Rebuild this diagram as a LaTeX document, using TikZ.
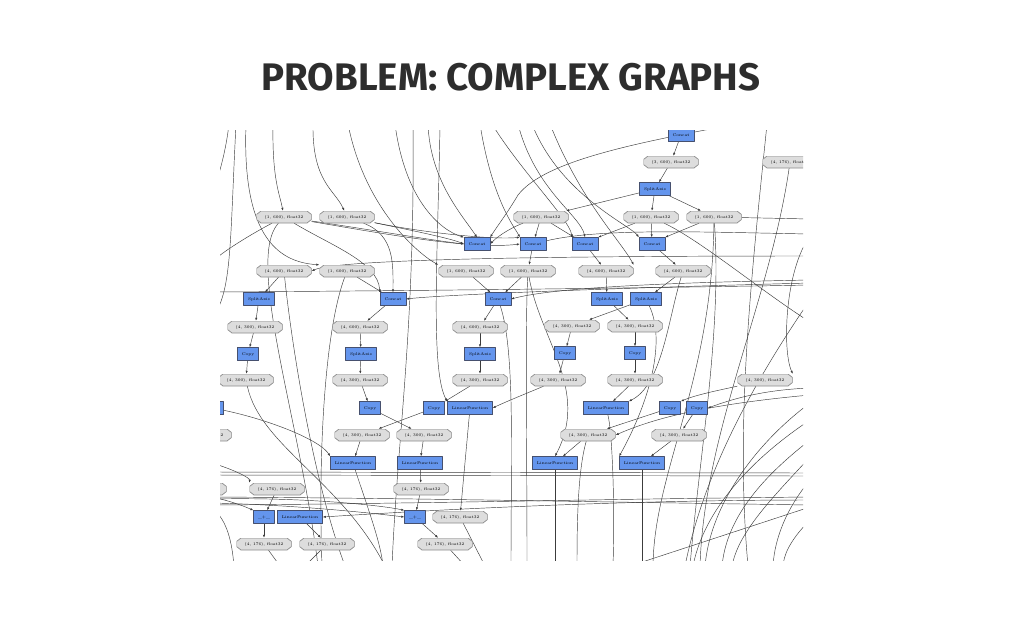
\documentclass[tikz,border=0pt]{standalone}
\usepackage{fontspec}
\newfontfamily\titlefont{Fira Sans}
\usetikzlibrary{arrows.meta}
\pgfdeclarelayer{paper}
\pgfdeclarelayer{edges}
\pgfsetlayers{paper,edges,main}

\begin{document}
\begin{tikzpicture}[x=1pt,y=-1pt,line cap=round,line join=round,
  opbox/.style={draw=opline,fill=opfill,line width=0.4pt,rectangle,
    minimum width=20pt,minimum height=13pt,inner xsep=4.5pt,inner ysep=0pt,
    font=\fontsize{4}{5}\selectfont},
  varbox/.style={rectangle,minimum width=55pt,minimum height=12pt,inner sep=0pt,
    font=\fontsize{4}{5}\selectfont,
    path picture={\filldraw[fill=varfill,draw=varline,line width=0.7pt]
      ([yshift=-3.5pt]path picture bounding box.north west)
      -- ([xshift=4.5pt]path picture bounding box.north west)
      -- ([xshift=-4.5pt]path picture bounding box.north east)
      -- ([yshift=-3.5pt]path picture bounding box.north east)
      -- ([yshift=3.5pt]path picture bounding box.south east)
      -- ([xshift=-4.5pt]path picture bounding box.south east)
      -- ([xshift=4.5pt]path picture bounding box.south west)
      -- ([yshift=3.5pt]path picture bounding box.south west) -- cycle;}},
  flow/.style={draw=edgecol,line width=0.45pt,-{Latex[length=3pt,width=2.2pt]}}]
  \definecolor{opfill}{RGB}{100,149,237}
  \definecolor{opline}{RGB}{70,80,110}
  \definecolor{varfill}{RGB}{221,221,221}
  \definecolor{varline}{RGB}{140,140,140}
  \definecolor{edgecol}{RGB}{60,60,60}
  \definecolor{titlecol}{RGB}{45,45,45}

  \useasboundingbox (0,0) rectangle (1024,640);
  \begin{pgfonlayer}{paper}
  \fill[white] (0,0) rectangle (1024,640);
  \end{pgfonlayer}

  % title
  \node[font=\titlefont\bfseries\fontsize{38.4}{42}\selectfont,text=titlecol,anchor=base]
    (title) at (511,90) {PROBLEM: COMPLEX GRAPHS};

  % ---- nodes of the graph ----
  \begin{scope}
  \clip (220,130) rectangle (803,560);
  % top chain
  \node[opbox] (concat1) at (681,135) {Concat};
  \node[varbox] (var1) at (671,162) {(3, 600), float32};
  \node[varbox] (var2) at (790,162) {(4, 176), float32};
  \node[opbox] (split1) at (655,189) {SplitAxis};
  % row of (1, 600) outputs
  \node[varbox] (var3) at (284,217) {(1, 600), float32};
  \node[varbox] (var4) at (347,217) {(1, 600), float32};
  \node[varbox] (var5) at (541,217) {(1, 600), float32};
  \node[varbox] (var6) at (651,217) {(1, 600), float32};
  \node[varbox] (var7) at (714,217) {(1, 600), float32};
  \node[opbox] (concat2) at (477,244) {Concat};
  \node[opbox] (concat3) at (533,244) {Concat};
  \node[opbox] (concat4) at (585,244) {Concat};
  \node[opbox] (concat5) at (652,244) {Concat};
  \node[varbox] (var8) at (284,271) {(4, 600), float32};
  \node[varbox] (var9) at (347,271) {(1, 600), float32};
  \node[varbox] (var10) at (466,271) {(1, 600), float32};
  \node[varbox] (var11) at (528,271) {(1, 600), float32};
  \node[varbox] (var12) at (606,271) {(4, 600), float32};
  \node[varbox] (var13) at (683,271) {(4, 600), float32};
  % split layer
  \node[opbox] (split2) at (259,299) {SplitAxis};
  \node[opbox] (concat6) at (393,299) {Concat};
  \node[opbox] (concat7) at (498,299) {Concat};
  \node[opbox] (split3) at (607,299) {SplitAxis};
  \node[opbox] (split4) at (646,299) {SplitAxis};
  \node[varbox] (var14) at (255,327) {(4, 300), float32};
  \node[varbox] (var15) at (360,327) {(4, 600), float32};
  \node[varbox] (var16) at (480,327) {(4, 600), float32};
  \node[varbox] (var17) at (572,326) {(4, 300), float32};
  \node[varbox] (var18) at (635,326) {(4, 300), float32};
  \node[opbox] (copy1) at (248,354) {Copy};
  \node[opbox] (split5) at (361,354) {SplitAxis};
  \node[opbox] (split6) at (480,354) {SplitAxis};
  \node[opbox] (copy2) at (565,353) {Copy};
  \node[opbox] (copy3) at (635,353) {Copy};
  \node[varbox] (var19) at (246,380) {(4, 300), float32};
  \node[varbox] (var20) at (360,380) {(4, 300), float32};
  \node[varbox] (var21) at (480,380) {(4, 300), float32};
  \node[varbox] (var22) at (558,380) {(4, 300), float32};
  \node[varbox] (var23) at (635,380) {(4, 300), float32};
  \node[varbox] (var24) at (765,380) {(4, 300), float32};
  % copy and linear layer
  \node[opbox] (copy0) at (213,408) {Copy};
  \node[opbox] (copy4) at (370,408) {Copy};
  \node[opbox] (copy5) at (434,408) {Copy};
  \node[opbox] (linf1) at (470,408) {LinearFunction};
  \node[opbox] (linf2) at (606,408) {LinearFunction};
  \node[opbox] (copy6) at (670,408) {Copy};
  \node[opbox] (copy7) at (697,408) {Copy};
  \node[varbox] (var25) at (204,435) {(4, 300), float32};
  \node[varbox] (var26) at (362,435) {(4, 300), float32};
  \node[varbox] (var27) at (424,435) {(4, 300), float32};
  \node[varbox] (var28) at (588,435) {(4, 300), float32};
  \node[varbox] (var29) at (679,435) {(4, 300), float32};
  \node[opbox] (linf3) at (353,463) {LinearFunction};
  \node[opbox] (linf4) at (420,463) {LinearFunction};
  \node[opbox] (linf5) at (555,463) {LinearFunction};
  \node[opbox] (linf6) at (642,463) {LinearFunction};
  % bottom
  \node[varbox] (var30) at (199,489) {(4, 176), float32};
  \node[varbox] (var31) at (277,489) {(4, 176), float32};
  \node[varbox] (var32) at (421,489) {(4, 176), float32};
  \node[opbox] (add1) at (264,517) {\_+\_};
  \node[opbox] (linf7) at (300,517) {LinearFunction};
  \node[opbox] (add2) at (415,517) {\_+\_};
  \node[varbox] (var33) at (460,517) {(4, 176), float32};
  \node[varbox] (var34) at (264,544) {(4, 176), float32};
  \node[varbox] (var35) at (327,544) {(4, 176), float32};
  \node[varbox] (var36) at (445,544) {(4, 176), float32};
  \end{scope}

  % ---- free ends outside the visible window ----
  \coordinate (top1) at (229,124);  \coordinate (top2) at (236,124);
  \coordinate (top3) at (246,124);  \coordinate (top4) at (273,124);
  \coordinate (top5) at (313,124);  \coordinate (top6) at (348,124);
  \coordinate (top7) at (395,124);  \coordinate (top8) at (413,124);
  \coordinate (top9) at (428,124);  \coordinate (top10) at (440,124);
  \coordinate (top11) at (480,124); \coordinate (top12) at (492,124);
  \coordinate (top13) at (518,124); \coordinate (top14) at (532,124);
  \coordinate (top15) at (550,124); \coordinate (top16) at (748,122);
  \coordinate (top17) at (767,124); \coordinate (top18) at (812,136);
  \coordinate (left1) at (212,195);  \coordinate (left2) at (212,318);
  \coordinate (left3) at (212,262);  \coordinate (left4) at (212,292);
  \coordinate (left5) at (212,463);  \coordinate (left6) at (212,497);
  \coordinate (left7) at (212,503);  \coordinate (left8) at (212,499);
  \coordinate (left9) at (212,472);  \coordinate (left10) at (212,475);
  \coordinate (left11) at (212,505); \coordinate (left12) at (212,508);
  \coordinate (right1) at (810,256);  \coordinate (right2) at (810,285);
  \coordinate (right3) at (810,280);  \coordinate (right4) at (810,283);
  \coordinate (right5) at (810,322);  \coordinate (right6) at (810,219);
  \coordinate (right7) at (810,234);  \coordinate (right8) at (810,500);
  \coordinate (right9) at (810,507);  \coordinate (right10) at (810,388);
  \coordinate (right11) at (810,395); \coordinate (right12) at (810,236);
  \coordinate (right13) at (810,403); \coordinate (right14) at (810,440);
  \coordinate (right15) at (810,457); \coordinate (right16) at (810,480);
  \coordinate (right17) at (810,520); \coordinate (right18) at (810,420);
  \coordinate (right19) at (810,300); \coordinate (right20) at (810,473);
  \coordinate (right21) at (810,476); \coordinate (right22) at (810,505);
  \coordinate (right23) at (810,497);
  \coordinate (bot1) at (392,566);  \coordinate (bot2) at (748,566);
  \coordinate (bot3) at (700,566);  \coordinate (bot4) at (318,566);
  \coordinate (bot5) at (690,566);  \coordinate (bot6) at (653,566);
  \coordinate (bot7) at (322,566);  \coordinate (bot8) at (385,566);
  \coordinate (bot9) at (630,566);  \coordinate (bot10) at (705,566);
  \coordinate (bot11) at (722,566); \coordinate (bot12) at (732,566);
  \coordinate (bot13) at (773,566); \coordinate (bot14) at (783,566);
  \coordinate (bot15) at (693,566); \coordinate (bot16) at (685,566);
  \coordinate (bot17) at (555,566); \coordinate (bot18) at (642,566);
  \coordinate (bot19) at (383,566); \coordinate (bot20) at (511,566);
  \coordinate (bot21) at (527,566); \coordinate (bot22) at (577,566);
  \coordinate (bot23) at (613,566); \coordinate (bot24) at (280,566);
  \coordinate (bot25) at (305,566); \coordinate (bot26) at (465,566);
  \coordinate (bot27) at (485,566); \coordinate (bot28) at (234,566);
  \coordinate (bot29) at (345,566);

  % ---- connectors (below the nodes) ----
  \begin{pgfonlayer}{edges}
  \begin{scope}
  \clip (220,130) rectangle (803,560);
  % short edges between neighbours
  \draw[flow] (concat1) -- (var1);
  \draw[flow] (var1) -- (split1);
  \draw[flow] (split1) -- (var5);
  \draw[flow] (split1) -- (var6);
  \draw[flow] (split1) -- (var7);
  \draw[flow] (var3) .. controls (360,228) and (430,240) .. (concat2.west);
  \draw[flow] (var3) .. controls (380,233) and (470,250) .. (concat3.west);
  \draw[flow] (var4) .. controls (400,228) and (450,238) .. (concat2.west);
  \draw[flow] (var4) .. controls (420,232) and (490,240) .. (concat3.north west);
  \draw[flow] (var5) .. controls (515,226) and (500,234) .. (concat2.east);
  \draw[flow] (var5) -- (concat3);
  \draw[flow] (var5) -- (concat4);
  \draw[flow] (var6) -- (concat4.north east);
  \draw[flow] (var6) -- (concat5);
  \draw[flow] (var7) -- (concat5.north east);
  \draw[flow] (concat5) -- (var13);
  \draw[flow] (concat4) -- (var12);
  \draw[flow] (concat3) -- (var11);
  \draw[flow] (var8) -- (split2);
  \draw[flow] (split2) -- (var14);
  \draw[flow] (var14) -- (copy1);
  \draw[flow] (copy1) -- (var19);
  \draw[flow] (var9) -- (concat6);
  \draw[flow] (var10) -- (concat7);
  \draw[flow] (var11) -- (concat7);
  \draw[flow] (concat6) -- (var15);
  \draw[flow] (var15) -- (split5);
  \draw[flow] (split5) -- (var20);
  \draw[flow] (var20) -- (copy4);
  \draw[flow] (copy4) -- (var27);
  \draw[flow] (var27) -- (linf4);
  \draw[flow] (linf4) -- (var32);
  \draw[flow] (var32) -- (add2);
  \draw[flow] (add2) -- (var36);
  \draw[flow] (concat7) -- (var16);
  \draw[flow] (var16) -- (split6);
  \draw[flow] (split6) -- (var21);
  \draw[flow] (var21) -- (copy5);
  \draw[flow] (copy5) -- (var26);
  \draw[flow] (var26) -- (linf3);
  \draw[flow] (var12) -- (split3);
  \draw[flow] (var13) -- (split4);
  \draw[flow] (split3) -- (var18);
  \draw[flow] (split4) -- (var17);
  \draw[flow] (var17) -- (copy2);
  \draw[flow] (var18) -- (copy3);
  \draw[flow] (copy2) -- (var22);
  \draw[flow] (copy3) -- (var23);
  \draw[flow] (var23) -- (linf2);
  \draw[flow] (var22) .. controls (530,392) and (505,402) .. (linf1.east);
  \draw[flow] (var24) .. controls (720,390) and (695,395) .. (copy6.north east);
  \draw[flow] (copy6) -- (var28);
  \draw[flow] (copy7) -- (var29);
  \draw[flow] (var28) -- (linf5);
  \draw[flow] (var29) -- (linf6);
  \draw[flow] (linf1) -- (var33);
  \draw[flow] (var31) -- (add1);
  \draw[flow] (add1) -- (var34);
  \draw[flow] (linf7) -- (var35);
  \draw[flow] (copy0) .. controls (270,420) and (320,440) .. (linf3.north west);

  % long edges coming in from the top
  \draw[flow] (top1) .. controls (226,150) and (220,172) .. (left1);
  \draw[flow] (top2) .. controls (230,240) and (232,290) .. (left2);
  \draw[flow] (top3) .. controls (242,232) and (275,262) .. (var9.north west);
  \draw[flow] (top4) .. controls (272,180) and (280,195) .. (var3);
  \draw[flow] (top5) .. controls (312,182) and (335,190) .. (var4);
  \draw[flow] (top6) .. controls (365,210) and (420,255) .. (var10.north west);
  \draw[flow] (top7) .. controls (405,200) and (440,230) .. (concat2.north west);
  \draw[flow] (top8) .. controls (415,330) and (398,430) .. (bot1);
  \draw[flow] (top9) .. controls (430,180) and (462,215) .. (concat2.north);
  \draw[flow] (top10) .. controls (438,250) and (430,370) .. (linf1.north west);
  \draw[flow] (top11) .. controls (492,200) and (515,228) .. (concat3.north west);
  \draw[flow] (top12) .. controls (520,170) and (570,220) .. (concat4.north west);
  \draw[flow] (top13) .. controls (535,190) and (580,215) .. (concat4.north);
  \draw[flow] (top14) .. controls (560,195) and (630,225) .. (concat5.north west);
  \draw[flow] (top15) .. controls (580,200) and (620,240) .. (var12.north east);
  \draw[flow] (top16) .. controls (640,142) and (545,160) .. (518,195)
    .. controls (508,212) and (496,228) .. (concat2.north east);
  \draw[flow] (top17) .. controls (752,270) and (735,420) .. (bot2);
  \draw[flow] (top18) -- (var2.north east);

  % long edges leaving through the sides and the bottom
  \draw[flow] (var2) .. controls (770,300) and (705,430) .. (bot3);
  \draw[flow] (var3) .. controls (255,232) and (225,250) .. (left3);
  \draw[flow] (var3) .. controls (245,260) and (300,420) .. (bot4);
  \draw[flow] (var3) .. controls (330,245) and (378,262) .. (concat6.north west);
  \draw[flow] (var4) .. controls (395,235) and (393,265) .. (concat6.north);
  \draw[flow] (right1) .. controls (600,256) and (340,258) .. (var8.east);
  \draw[flow] (left4) .. controls (400,291) and (650,288) .. (right2);
  \draw[flow] (right3) .. controls (700,282) and (560,286) .. (concat7.east);
  \draw[flow] (right4) .. controls (650,287) and (450,294) .. (concat6.east);
  \draw[flow] (var6) .. controls (700,240) and (760,290) .. (right5);
  \draw[flow] (var7) -- (right6);
  \draw[flow] (concat3) .. controls (600,228) and (700,232) .. (right7);
  \draw[flow] (var7) .. controls (722,330) and (700,450) .. (bot5);
  \draw[flow] (var7) .. controls (712,380) and (655,470) .. (bot6);
  \draw[flow] (var13) .. controls (668,320) and (662,385) .. (linf2.north east);
  \draw[flow] (split4) .. controls (668,345) and (645,410) .. (linf6.north west);
  \draw[flow] (var11) .. controls (540,340) and (590,390) .. (linf5.north);
  \draw[flow] (var9) .. controls (325,330) and (318,450) .. (bot7);
  \draw[flow] (var8) .. controls (290,330) and (310,470) .. (bot29);
  \draw[flow] (var19) .. controls (260,445) and (340,480) .. (bot8);
  \draw[flow] (left5) .. controls (235,470) and (250,478) .. (var31.north west);
  \draw[flow] (left6) .. controls (235,502) and (248,508) .. (add1.north west);
  \draw[flow] (left7) .. controls (300,505) and (380,514) .. (add2.west);
  \draw[flow] (left8) .. controls (300,497) and (380,505) .. (add2.north west);
  \draw[flow] (right8) .. controls (600,500) and (400,512) .. (linf7.east);
  \draw[flow] (left9) -- (right20);
  \draw[flow] (left10) -- (right21);
  \draw[flow] (left6) .. controls (400,498) and (600,502) .. (right22);
  \draw[flow] (left11) .. controls (400,504) and (600,499) .. (right23);
  \draw[flow] (right9) -- (bot9);
  \draw[flow] (right10) .. controls (760,390) and (730,400) .. (copy7.east);
  \draw[flow] (right11) .. controls (700,405) and (650,420) .. (var28.east);
  \draw[flow] (right12) .. controls (785,270) and (782,350) .. (var24.north east);
  \draw[flow] (right13) .. controls (760,440) and (712,500) .. (bot10);
  \draw[flow] (right14) .. controls (765,475) and (728,515) .. (bot11);
  \draw[flow] (right15) .. controls (775,495) and (740,530) .. (bot12);
  \draw[flow] (right16) .. controls (785,510) and (775,540) .. (bot13);
  \draw[flow] (right17) .. controls (795,535) and (785,550) .. (bot14);
  \draw[flow] (right18) .. controls (750,460) and (705,510) .. (bot15);
  \draw[flow] (right19) .. controls (755,380) and (705,470) .. (bot16);
  \draw[flow] (linf5) -- (bot17);
  \draw[flow] (linf6) -- (bot18);
  \draw[flow] (linf3) .. controls (365,500) and (380,540) .. (bot19);
  \draw[flow] (concat7) .. controls (515,350) and (511,450) .. (bot20);
  \draw[flow] (var11) .. controls (525,330) and (527,450) .. (bot21);
  \draw[flow] (var28) .. controls (578,470) and (577,520) .. (bot22);
  \draw[flow] (linf2) .. controls (612,430) and (615,500) .. (bot23);
  \draw[flow] (var34) -- (bot24);
  \draw[flow] (var35) -- (bot25);
  \draw[flow] (var36) -- (bot26);
  \draw[flow] (var33) -- (bot27);
  \draw[flow] (left12) .. controls (228,520) and (232,545) .. (bot28);
  \end{scope}
  \end{pgfonlayer}
\end{tikzpicture}
\end{document}
